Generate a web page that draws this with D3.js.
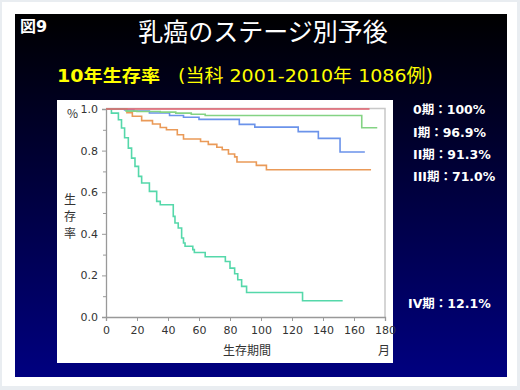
<!DOCTYPE html>
<html><head><meta charset="utf-8">
<script src="https://cdn.jsdelivr.net/npm/d3@7"></script>
<style>html,body{margin:0;padding:0;background:#e9edf1;}svg{display:block;}</style>
</head><body>
<script>
const stageLabels = ["0期：100%", "I期：96.9%", "II期：91.3%", "III期：71.0%", "IV期：12.1%"];
const xTicks = [0,20,40,60,80,100,120,140,160,180];
const yTicks = [0.0,0.2,0.4,0.6,0.8,1.0];
const yMinorTicks = [0.1,0.3,0.5,0.7,0.9];

const stage0T = [0,170];
const stage0V = [1,1];
const stage1T = [0,13,20,35,45,55,64,165,175];
const stage1V = [1,0.99,0.988,0.985,0.98,0.975,0.969,0.91,0.91];
const stage2T = [0,12,18,28,41,50,60,86,96,124,137,151,167];
const stage2V = [1,0.995,0.99,0.981,0.969,0.96,0.95,0.926,0.913,0.891,0.859,0.793,0.793];
const stage3T = [0,13.5,17,23,30,35,39,46,50,61,66,71.5,75,79,83,84.5,97,103.5,171];
const stage3V = [1,0.982,0.965,0.944,0.928,0.911,0.9,0.876,0.856,0.844,0.83,0.816,0.804,0.784,0.77,0.745,0.729,0.708,0.708];
const stage4T = [0,3.5,8,10,12,14.4,16.5,18.7,21,23,28,32.7,35,43.4,44.5,46.6,48.8,50,51,56,57,64,77,80,83,85,87.5,90.7,126.8,152.7];
const stage4V = [1,0.98,0.948,0.909,0.862,0.812,0.764,0.724,0.676,0.644,0.604,0.556,0.54,0.484,0.452,0.428,0.38,0.356,0.34,0.324,0.31,0.29,0.267,0.235,0.208,0.179,0.147,0.118,0.078,0.078];

const series = [
  {t: stage4T, v: stage4V, c: "#55d8aa"},
  {t: stage3T, v: stage3V, c: "#ea9a58"},
  {t: stage2T, v: stage2V, c: "#6b93ea"},
  {t: stage1T, v: stage1V, c: "#84d384"},
  {t: stage0T, v: stage0V, c: "#e0606e"}
];

const W = 520, H = 390;
const svg = d3.select("body").append("svg").attr("width", W).attr("height", H);
const defs = svg.append("defs");
const g = defs.append("linearGradient").attr("id","bg").attr("x1",0).attr("y1",0).attr("x2",0).attr("y2",1);
g.append("stop").attr("offset","0%").attr("stop-color","#000000");
g.append("stop").attr("offset","100%").attr("stop-color","#000080");

svg.append("rect").attr("x",0).attr("y",0).attr("width",W).attr("height",H).attr("fill","#e9edf1");
svg.append("rect").attr("x",2).attr("y",2).attr("width",515).attr("height",384).attr("fill","#ffffff");
svg.append("rect").attr("x",15).attr("y",14).attr("width",492).attr("height",363).attr("fill","url(#bg)");

const jp = "'Noto Sans CJK JP', 'Noto Sans', sans-serif";
const mix = "'DejaVu Sans', 'Noto Sans CJK JP', sans-serif";

svg.append("text").attr("x",20).attr("y",32).attr("fill","#fff").attr("font-family",mix)
  .attr("font-weight","bold").attr("font-size",16).text("図9");
svg.append("text").attr("x",263).attr("y",41).attr("fill","#fff").attr("font-family",jp)
  .attr("font-size",25).attr("text-anchor","middle").text("乳癌のステージ別予後");
svg.append("text").attr("x",57).attr("y",82).attr("fill","#ffff00").attr("font-family",mix)
  .attr("font-size",17).attr("font-weight","bold").attr("textLength",103).attr("lengthAdjust","spacingAndGlyphs").text("10年生存率");
svg.append("text").attr("x",178).attr("y",82).attr("fill","#ffff00").attr("font-family",mix)
  .attr("font-size",18).attr("textLength",255).attr("lengthAdjust","spacingAndGlyphs").text("(当科 2001-2010年 1086例)");

// plot panel
svg.append("rect").attr("x",57).attr("y",100).attr("width",336).attr("height",263).attr("fill","#ffffff");

const x = d3.scaleLinear().domain([0,180]).range([106,385]);
const y = d3.scaleLinear().domain([0,1]).range([317,109]);

// frame
svg.append("path").attr("d",`M${x(0)},${y(1)-0.5}H${x(180)}V${y(0)}`).attr("fill","none").attr("stroke","#c8c8c8").attr("stroke-width",1.5);

svg.append("g").attr("transform",`translate(0,${y(0)})`)
  .call(d3.axisBottom(x).tickValues(xTicks).tickSize(4).tickPadding(5).tickFormat(d3.format("d")));
svg.append("g").attr("transform",`translate(${x(0)},0)`)
  .call(d3.axisLeft(y).tickValues(yTicks).tickSize(4).tickPadding(4).tickFormat(d3.format(".1f")));
svg.append("g").attr("transform",`translate(${x(0)},0)`)
  .call(d3.axisLeft(y).tickValues(yMinorTicks).tickSize(3).tickFormat(""))
  .call(a => a.select(".domain").remove());
svg.selectAll(".domain").attr("stroke","#999").attr("stroke-width",1.3);
svg.selectAll(".tick line").attr("stroke","#999");
svg.selectAll(".tick text").attr("fill","#333").attr("font-size",11).attr("font-family","'DejaVu Sans', sans-serif");

const line = d3.line().curve(d3.curveStepAfter).x(d => x(d[0])).y(d => y(d[1]));
series.forEach(s => {
  svg.append("path").datum(d3.zip(s.t, s.v)).attr("d", line)
    .attr("fill","none").attr("stroke", s.c).attr("stroke-width",1.6);
});

// axis titles
svg.append("text").attr("x",67).attr("y",118).attr("font-size",12).attr("fill","#333").attr("font-family",jp).text("%");
["生","存","率"].forEach((ch,i) => {
  svg.append("text").attr("x",64).attr("y",204 + i*17).attr("font-size",12).attr("fill","#333").attr("font-family",jp).text(ch);
});
svg.append("text").attr("x",247).attr("y",355).attr("font-size",12).attr("fill","#333").attr("font-family",jp).attr("text-anchor","middle").text("生存期間");
svg.append("text").attr("x",384).attr("y",355).attr("font-size",12).attr("fill","#333").attr("font-family",jp).attr("text-anchor","middle").text("月");

// stage labels
const labelY = [114, 137, 159, 181, 308];
const labelX = [413, 413, 413, 413, 408];
stageLabels.forEach((s,i) => {
  svg.append("text").attr("x",labelX[i]).attr("y",labelY[i]).attr("fill","#fff").attr("font-family",mix)
    .attr("font-weight","bold").attr("font-size",12.5).text(s);
});
</script>
</body></html>
